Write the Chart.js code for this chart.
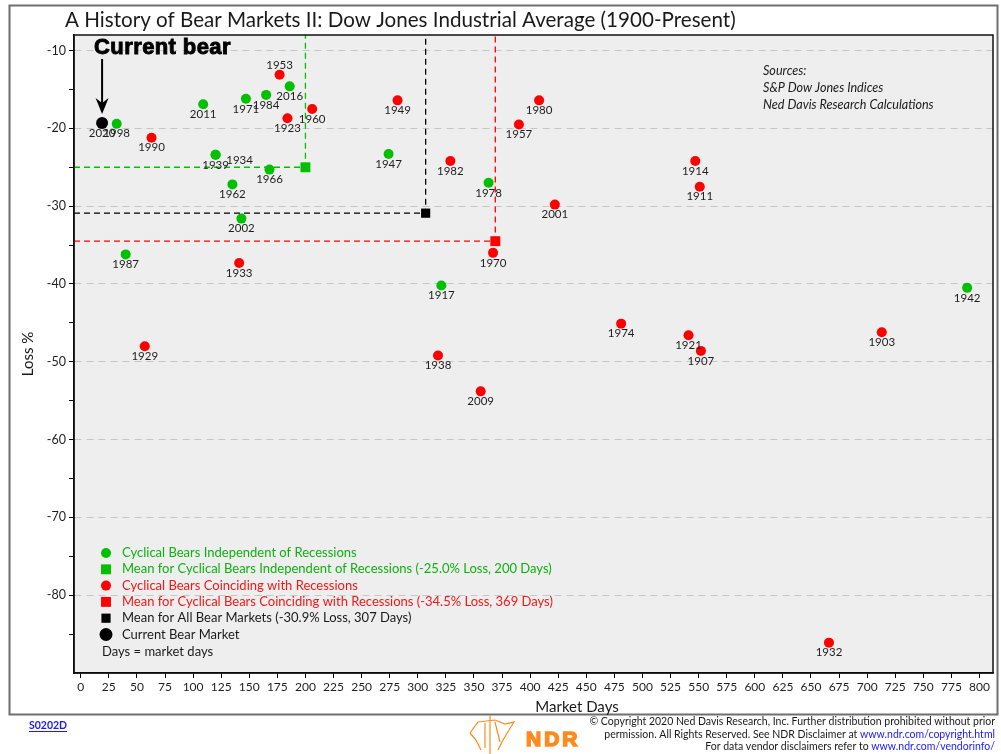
<!DOCTYPE html>
<html>
<head>
    <meta charset="utf-8">
    <title>A History of Bear Markets II: Dow Jones Industrial Average (1900-Present)</title>
    <script src="https://cdn.jsdelivr.net/npm/chart.js"></script>
    <style>
        html, body { margin: 0; padding: 0; background: #fff; }
        .chart-box { position: relative; width: 1001px; height: 754px; }
    </style>
</head>
<body>
    <div class="chart-box">
        <canvas id="bear-chart"></canvas>
    </div>

    <script>
        // cyclical bears independent of recessions
        const indepYears = [1998, 2011, 1971, 1984, 2016, 1939, 1934, 1966, 1962, 2002, 1987, 1947, 1978, 1917, 1942];
        const indepDays  = [32, 109, 147, 165, 186, 120, 120, 168, 135, 143, 40, 274, 363, 321, 789];
        const indepLoss  = [-19.4, -16.9, -16.2, -15.7, -14.6, -23.4, -23.4, -25.3, -27.2, -31.6, -36.2, -23.3, -27.0, -40.2, -40.5];

        // cyclical bears coinciding with recessions
        const recYears = [1953, 1923, 1960, 1990, 1933, 1929, 1949, 1980, 1957, 1982, 2001, 1970, 1914, 1911, 1974, 1921, 1907, 1903, 1938, 2009, 1932];
        const recDays  = [177, 184, 206, 63, 141, 57, 282, 408, 390, 329, 422, 367, 547, 551, 481, 541, 552, 713, 318, 356, 666];
        const recLoss  = [-13.1, -18.7, -17.5, -21.2, -37.3, -48.0, -16.4, -16.4, -19.5, -24.2, -29.8, -36.0, -24.2, -27.5, -45.1, -46.6, -48.6, -46.2, -49.2, -53.8, -86.1];

        // current bear market
        const currentYears = [2020];
        const currentDays  = [19];
        const currentLoss  = [-19.3];

        // means: independent, coinciding, all
        const meanNames = ['Mean for Cyclical Bears Independent of Recessions', 'Mean for Cyclical Bears Coinciding with Recessions', 'Mean for All Bear Markets'];
        const meanDays  = [200, 369, 307];
        const meanLoss  = [-25.0, -34.5, -30.9];

        const xTicks = [0, 25, 50, 75, 100, 125, 150, 175, 200, 225, 250, 275, 300, 325, 350, 375, 400,
                        425, 450, 475, 500, 525, 550, 575, 600, 625, 650, 675, 700, 725, 750, 775, 800];
        const yTicks = [-10, -15, -20, -25, -30, -35, -40, -45, -50, -55, -60, -65, -70, -75, -80, -85];

        const X_MIN = -6, X_MAX = 812, Y_MIN = -90, Y_MAX = -8;

        const GREEN = '#00c000';
        const GREEN_TEXT = '#10b010';
        const RED = '#ff0000';
        const RED_TEXT = '#f01818';
        const BLACK = '#000000';
        const FONT = 'Lato, "Open Sans", sans-serif';

        const toPoints = (days, loss, years) => days.map((d, i) => ({ x: d, y: loss[i], year: years ? years[i] : null }));
        const meanText = i => `${meanNames[i]} (${meanLoss[i].toFixed(1)}% Loss, ${meanDays[i]} Days)`;
        const meanPath = i => [{ x: X_MIN, y: meanLoss[i] }, { x: meanDays[i], y: meanLoss[i] }, { x: meanDays[i], y: Y_MAX }];

        // label nudges for crowded years (pixels)
        const labelShift = { 1953: [0, -19], 1934: [24, -5] };

        const yearLabels = {
            id: 'yearLabels',
            afterDatasetsDraw(chart) {
                const ctx = chart.ctx;
                ctx.save();
                ctx.font = '11.5px ' + FONT;
                ctx.fillStyle = '#1e1e1e';
                ctx.textAlign = 'center';
                ctx.textBaseline = 'middle';
                chart.data.datasets.forEach((ds, i) => {
                    if (!ds.yearLabels) return;
                    chart.getDatasetMeta(i).data.forEach((pt, j) => {
                        const yr = ds.data[j].year;
                        const off = labelShift[yr] || [0, 0];
                        ctx.fillText(String(yr), pt.x + off[0], pt.y + 10 + off[1]);
                    });
                });
                ctx.restore();
            }
        };

        const frame = {
            id: 'frame',
            beforeDraw(chart) {
                const { ctx, chartArea: a } = chart;
                ctx.save();
                ctx.fillStyle = '#ffffff';
                ctx.fillRect(0, 0, chart.width, chart.height);
                ctx.strokeStyle = '#6e6e6e';
                ctx.lineWidth = 2;
                ctx.strokeRect(9.5, 5.5, 988, 709);
                ctx.fillStyle = '#eeeeee';
                ctx.fillRect(a.left, a.top, a.right - a.left, a.bottom - a.top);
                ctx.restore();
            },
            afterDraw(chart) {
                const { ctx, chartArea: a } = chart;
                ctx.save();
                ctx.strokeStyle = '#111';
                ctx.lineWidth = 1.5;
                ctx.strokeRect(a.left, a.top, a.right - a.left, a.bottom - a.top);

                // title
                ctx.fillStyle = '#1a1a1a';
                ctx.font = '20.6px ' + FONT;
                ctx.textAlign = 'left';
                ctx.textBaseline = 'alphabetic';
                ctx.fillText('A History of Bear Markets II: Dow Jones Industrial Average (1900-Present)', 65, 27);

                // axis titles
                ctx.font = '15px ' + FONT;
                ctx.textAlign = 'center';
                ctx.textBaseline = 'middle';
                ctx.fillText('Market Days', 577, 707);
                ctx.save();
                ctx.translate(28, (a.top + a.bottom) / 2);
                ctx.rotate(-Math.PI / 2);
                ctx.fillText('Loss %', 0, 0);
                ctx.restore();

                // current bear callout
                const cur = chart.getDatasetMeta(5).data[0];
                ctx.fillStyle = '#000';
                ctx.strokeStyle = '#000';
                ctx.font = 'bold 22px "Liberation Sans", Arial, sans-serif';
                ctx.textAlign = 'left';
                ctx.textBaseline = 'alphabetic';
                ctx.letterSpacing = '0.4px';
                ctx.lineWidth = 0.9;
                ctx.fillText('Current bear', cur.x - 8, 54);
                ctx.strokeText('Current bear', cur.x - 8, 54);
                ctx.letterSpacing = '0px';
                ctx.lineWidth = 2;
                ctx.beginPath();
                ctx.moveTo(cur.x, 59);
                ctx.lineTo(cur.x, cur.y - 20);
                ctx.stroke();
                ctx.beginPath();
                ctx.moveTo(cur.x - 6.5, cur.y - 25);
                ctx.lineTo(cur.x, cur.y - 9);
                ctx.lineTo(cur.x + 6.5, cur.y - 25);
                ctx.lineTo(cur.x, cur.y - 20);
                ctx.closePath();
                ctx.fill();

                // sources
                ctx.font = 'italic 12.6px ' + FONT;
                ctx.fillStyle = '#1a1a1a';
                ctx.textBaseline = 'middle';
                ['Sources:', 'S&P Dow Jones Indices', 'Ned Davis Research Calculations'].forEach((t, i) => {
                    ctx.fillText(t, 763, 71 + i * 17);
                });

                // legend
                const rowY = 553, rowH = 16.3, mx = a.left + 32, tx = a.left + 48;
                ctx.font = '13px ' + FONT;
                chart.data.datasets.forEach((ds, i) => {
                    if (ds.type === 'line') return;
                    const y = rowY + i * rowH;
                    ctx.fillStyle = ds.backgroundColor;
                    ctx.beginPath();
                    if (ds.pointStyle === 'rect') {
                        const s = ds.pointRadius * Math.SQRT1_2 * 2;
                        ctx.rect(mx - s / 2, y - s / 2, s, s);
                    } else {
                        ctx.arc(mx, y, ds.pointRadius + (ds.pointRadius > 5.5 ? 0.5 : 0), 0, Math.PI * 2);
                    }
                    ctx.fill();
                    ctx.fillStyle = ds.legendColor;
                    ctx.fillText(ds.label, tx, y);
                });
                ctx.fillStyle = '#1a1a1a';
                ctx.fillText('Days = market days', a.left + 28, rowY + 6 * rowH + 1.5);

                // footer
                ctx.font = 'bold 10.5px ' + FONT;
                ctx.fillStyle = '#1a1aff';
                ctx.fillText('S0202D', 29, 726);
                const w = ctx.measureText('S0202D').width;
                ctx.fillRect(29, 731, w, 1);

                ctx.fillStyle = '#ff8a1e';
                ctx.strokeStyle = '#ff8a1e';
                ctx.font = 'bold 21px "Liberation Sans", Arial, sans-serif';
                ctx.letterSpacing = '3px';
                ctx.textBaseline = 'alphabetic';
                ctx.lineWidth = 1.6;
                ctx.fillText('NDR', 526, 746);
                ctx.strokeText('NDR', 526, 746);
                ctx.letterSpacing = '0px';
                ctx.lineWidth = 1.2;
                ctx.beginPath();
                ctx.moveTo(490, 715); ctx.lineTo(490, 754);
                ctx.moveTo(470, 733); ctx.lineTo(478, 722); ctx.lineTo(495, 720); ctx.lineTo(505, 724);
                ctx.lineTo(514, 722); ctx.lineTo(509, 730); ctx.lineTo(503, 740); ctx.lineTo(498, 750);
                ctx.moveTo(470, 733); ctx.lineTo(476, 740); ctx.lineTo(481, 750);
                ctx.moveTo(485, 723); ctx.lineTo(485, 748);
                ctx.moveTo(495, 722); ctx.lineTo(500, 742);
                ctx.stroke();

                ctx.font = '10.5px ' + FONT;
                ctx.textAlign = 'right';
                ctx.textBaseline = 'middle';
                const right = 995;
                const lines = [
                    ['\u00a9 Copyright 2020 Ned Davis Research, Inc. Further distribution prohibited without prior', ''],
                    ['permission. All Rights Reserved. See NDR Disclaimer at ', 'www.ndr.com/copyright.html'],
                    ['For data vendor disclaimers refer to ', 'www.ndr.com/vendorinfo/']
                ];
                lines.forEach(([plain, link], i) => {
                    const y = 722 + i * 12.3;
                    let lw = 0;
                    if (link) {
                        ctx.fillStyle = '#1a1aff';
                        ctx.fillText(link, right, y);
                        lw = ctx.measureText(link).width;
                    }
                    ctx.fillStyle = '#1a1a1a';
                    ctx.fillText(plain, right - lw, y);
                });
                ctx.restore();
            }
        };

        const scatterSet = (label, data, color, textColor, style, radius, labels) => ({
            type: 'scatter',
            label: label,
            data: data,
            backgroundColor: color,
            borderColor: color,
            borderWidth: 0,
            pointStyle: style,
            pointRadius: radius,
            pointHoverRadius: radius,
            legendColor: textColor,
            yearLabels: labels
        });

        const lineSet = (i, color) => ({
            type: 'line',
            data: meanPath(i),
            borderColor: color,
            borderWidth: 1.3,
            borderDash: [6, 4],
            pointRadius: 0,
            fill: false,
            tension: 0
        });

        const ctx = document.getElementById('bear-chart').getContext('2d');
        const bearChart = new Chart(ctx, {
            type: 'scatter',
            data: {
                datasets: [
                    scatterSet('Cyclical Bears Independent of Recessions', toPoints(indepDays, indepLoss, indepYears), GREEN, GREEN_TEXT, 'circle', 5, true),
                    scatterSet(meanText(0), toPoints([meanDays[0]], [meanLoss[0]]), GREEN, GREEN_TEXT, 'rect', 7, false),
                    scatterSet('Cyclical Bears Coinciding with Recessions', toPoints(recDays, recLoss, recYears), RED, RED_TEXT, 'circle', 5, true),
                    scatterSet(meanText(1), toPoints([meanDays[1]], [meanLoss[1]]), RED, RED_TEXT, 'rect', 7, false),
                    scatterSet(meanText(2), toPoints([meanDays[2]], [meanLoss[2]]), BLACK, '#1a1a1a', 'rect', 6.5, false),
                    scatterSet('Current Bear Market', toPoints(currentDays, currentLoss, currentYears), BLACK, '#1a1a1a', 'circle', 6, true),
                    lineSet(0, GREEN),
                    lineSet(1, RED),
                    lineSet(2, BLACK)
                ]
            },
            options: {
                responsive: true,
                maintainAspectRatio: false,
                animation: false,
                layout: { padding: { left: 0, top: 35, right: 8, bottom: 0 } },
                plugins: {
                    legend: { display: false },
                    title: { display: false },
                    tooltip: { enabled: false }
                },
                scales: {
                    x: {
                        type: 'linear',
                        min: X_MIN,
                        max: X_MAX,
                        afterBuildTicks: s => { s.ticks = xTicks.map(v => ({ value: v })); },
                        afterFit: s => { s.height = 81; },
                        ticks: { autoSkip: false, maxRotation: 0, padding: 2, color: '#1e1e1e', font: { family: 'Lato', size: 12 } },
                        grid: { drawOnChartArea: false, tickColor: '#000', tickLength: 5 },
                        border: { color: '#000', width: 1.5 }
                    },
                    y: {
                        type: 'linear',
                        min: Y_MIN,
                        max: Y_MAX,
                        afterBuildTicks: s => { s.ticks = yTicks.map(v => ({ value: v })); },
                        afterFit: s => { s.width = 74; },
                        ticks: {
                            autoSkip: false,
                            padding: 3,
                            color: '#1e1e1e',
                            font: { family: 'Lato', size: 12.5 },
                            callback: v => (v % 10 === 0 ? v : '')
                        },
                        grid: {
                            color: c => (c.tick && c.tick.value % 10 === 0 ? '#c6c6c6' : 'rgba(0,0,0,0)'),
                            tickColor: '#000',
                            tickLength: 5,
                            lineWidth: 1
                        },
                        border: { color: '#000', width: 1.5, dash: [7, 5] }
                    }
                }
            },
            plugins: [frame, yearLabels]
        });
    </script>
</body>
</html>
